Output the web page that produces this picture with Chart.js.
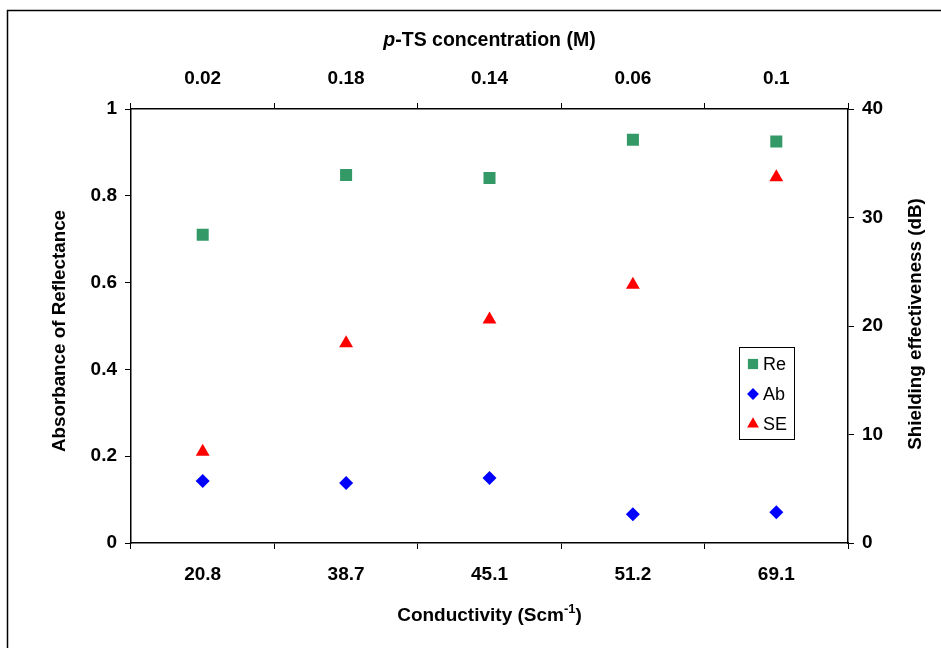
<!DOCTYPE html>
<html lang="en">
<head>
    <meta charset="UTF-8">
    <title>Conductivity vs shielding</title>
    <script src="https://cdn.jsdelivr.net/npm/chart.js"></script>
    <style>
        body { margin: 0; background: #fff; }
        .caja { position: relative; width: 941px; height: 648px; }
    </style>
</head>
<body>
    <div class="caja">
        <canvas id="grafico"></canvas>
    </div>

    <script>
        // data
        let conductividad = ['20.8', '38.7', '45.1', '51.2', '69.1'];
        let concentracion = ['0.02', '0.18', '0.14', '0.06', '0.1'];
        let reData = [0.71, 0.848, 0.841, 0.929, 0.925];
        let abData = [0.143, 0.138, 0.150, 0.066, 0.071];
        let seData = [8.4, 18.4, 20.6, 23.8, 33.7];

        const FAM = "'Liberation Sans', Arial, sans-serif";
        const tickFont = { family: FAM, size: 19, weight: 'bold' };

        // frame, axis titles and the legend box
        const extras = {
            id: 'extras',
            beforeDraw(chart) {
                let c = chart.ctx;
                c.save();
                c.strokeStyle = '#000';
                c.lineWidth = 1.5;
                c.strokeRect(7.5, 10.5, 1200, 1200);
                c.restore();
            },
            afterDraw(chart) {
                let c = chart.ctx;
                let a = chart.chartArea;
                let cx = (a.left + a.right) / 2;
                c.save();
                c.fillStyle = '#000';
                c.textBaseline = 'middle';

                // top title with italic p
                let t1 = 'p', t2 = '-TS concentration (M)';
                c.font = 'italic bold 19.5px ' + FAM;
                let w1 = c.measureText(t1).width;
                c.font = 'bold 19.5px ' + FAM;
                let w2 = c.measureText(t2).width;
                let x0 = cx - (w1 + w2) / 2;
                c.textAlign = 'left';
                c.font = 'italic bold 19.5px ' + FAM;
                c.fillText(t1, x0, 41);
                c.font = 'bold 19.5px ' + FAM;
                c.fillText(t2, x0 + w1, 41);

                // bottom title with superscript
                let b1 = 'Conductivity (Scm', b2 = '-1', b3 = ')';
                c.font = 'bold 19px ' + FAM;
                let bw1 = c.measureText(b1).width, bw3 = c.measureText(b3).width;
                c.font = 'bold 13px ' + FAM;
                let bw2 = c.measureText(b2).width;
                let bx = cx - (bw1 + bw2 + bw3) / 2;
                c.font = 'bold 19px ' + FAM;
                c.fillText(b1, bx, 616);
                c.font = 'bold 13px ' + FAM;
                c.fillText(b2, bx + bw1, 609);
                c.font = 'bold 19px ' + FAM;
                c.fillText(b3, bx + bw1 + bw2, 616);

                // vertical titles
                let cy = (a.top + a.bottom) / 2;
                c.textAlign = 'center';
                c.font = 'bold 18.8px ' + FAM;
                c.save();
                c.translate(60, cy + 5);
                c.rotate(-Math.PI / 2);
                c.fillText('Absorbance of Reflectance', 0, 0);
                c.restore();
                c.save();
                c.translate(916, cy - 2);
                c.rotate(-Math.PI / 2);
                c.fillText('Shielding effectiveness (dB)', 0, 0);
                c.restore();

                // legend
                c.strokeStyle = '#000';
                c.lineWidth = 1;
                c.fillStyle = '#fff';
                c.fillRect(739.5, 347.5, 55, 92);
                c.strokeRect(739.5, 347.5, 55, 92);
                c.textAlign = 'left';
                c.font = '18px ' + FAM;
                chart.data.datasets.forEach((ds, i) => {
                    let y = 364 + i * 30;
                    c.fillStyle = ds.pointBackgroundColor;
                    Chart.helpers.drawPoint(c, {
                        pointStyle: ds.pointStyle,
                        radius: ds.pointRadius * 0.85,
                        rotation: 0,
                        borderWidth: 0
                    }, 753, y);
                    c.fillStyle = '#000';
                    c.fillText(ds.label, 763, y + 1);
                });
                c.restore();
            }
        };

        let ctx = document.getElementById('grafico').getContext('2d');

        let chart = new Chart(ctx, {
            type: 'line',
            data: {
                labels: conductividad,
                datasets: [
                    {
                        label: 'Re',
                        data: reData,
                        yAxisID: 'y',
                        showLine: false,
                        pointStyle: 'rect',
                        pointRadius: 8.5,
                        pointBackgroundColor: '#339966',
                        pointBorderWidth: 0,
                        borderColor: '#339966'
                    },
                    {
                        label: 'Ab',
                        data: abData,
                        yAxisID: 'y',
                        showLine: false,
                        pointStyle: 'rectRot',
                        pointRadius: 7,
                        pointBackgroundColor: '#0000ff',
                        pointBorderWidth: 0,
                        borderColor: '#0000ff'
                    },
                    {
                        label: 'SE',
                        data: seData,
                        yAxisID: 'y1',
                        showLine: false,
                        pointStyle: 'triangle',
                        pointRadius: 8,
                        pointBackgroundColor: '#ff0000',
                        pointBorderWidth: 0,
                        borderColor: '#ff0000'
                    }
                ]
            },
            options: {
                responsive: true,
                maintainAspectRatio: false,
                animation: false,
                layout: { padding: 0 },
                plugins: {
                    legend: { display: false },
                    tooltip: { enabled: false }
                },
                scales: {
                    x: {
                        position: 'bottom',
                        offset: true,
                        afterFit: s => { s.height = 105; },
                        grid: { offset: true, drawOnChartArea: false, drawTicks: true, tickLength: 6, color: '#000' },
                        border: { color: '#000', width: 1.5 },
                        ticks: { color: '#000', font: tickFont, padding: 14, maxRotation: 0 }
                    },
                    x2: {
                        type: 'category',
                        position: 'top',
                        labels: concentracion,
                        offset: true,
                        display: true,
                        afterFit: s => { s.height = 109; },
                        grid: { offset: true, drawOnChartArea: false, drawTicks: true, tickLength: 6, color: '#000' },
                        border: { color: '#000', width: 1.5 },
                        ticks: { color: '#000', font: tickFont, padding: 13, maxRotation: 0 }
                    },
                    y: {
                        position: 'left',
                        min: 0,
                        max: 1,
                        afterFit: s => { s.width = 131; },
                        grid: { drawOnChartArea: false, drawTicks: true, tickLength: 6, color: '#000' },
                        border: { color: '#000', width: 1.5 },
                        ticks: {
                            stepSize: 0.2, color: '#000', font: tickFont, padding: 8,
                            callback: v => String(+v.toFixed(1))
                        }
                    },
                    y1: {
                        position: 'right',
                        min: 0,
                        max: 40,
                        afterFit: s => { s.width = 93; },
                        grid: { drawOnChartArea: false, drawTicks: true, tickLength: 6, color: '#000' },
                        border: { color: '#000', width: 1.5 },
                        ticks: { stepSize: 10, color: '#000', font: tickFont, padding: 8 }
                    }
                }
            },
            plugins: [extras]
        });
    </script>
</body>
</html>
